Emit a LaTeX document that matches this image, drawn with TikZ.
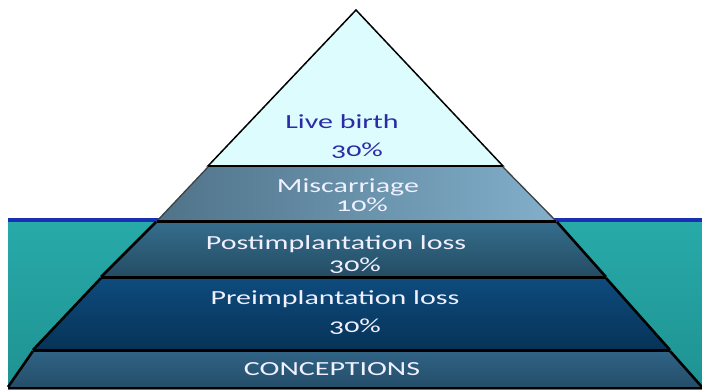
\documentclass[tikz,border=0pt]{standalone}
\usepackage{fontspec}
\setmainfont{Carlito}[Numbers=OldStyle]
\definecolor{seatop}{HTML}{27AAA9}
\definecolor{seabot}{HTML}{1F9292}
\definecolor{sealine}{HTML}{1B30B0}
\definecolor{birthfill}{HTML}{DDFCFD}
\definecolor{birthtext}{HTML}{2B2BA8}
\definecolor{misleft}{HTML}{4F7389}
\definecolor{misright}{HTML}{82AFCB}
\definecolor{posttop}{HTML}{356D8C}
\definecolor{postbot}{HTML}{244C63}
\definecolor{pretop}{HTML}{0E4B7D}
\definecolor{prebot}{HTML}{063357}
\definecolor{contop}{HTML}{306385}
\definecolor{conbot}{HTML}{244E6A}
\begin{document}
\begin{tikzpicture}[x=1pt, y=-1pt,
    edge/.style={draw=black, line width=2.6pt, line join=round},
    lbl/.style={font=\fontsize{20}{24}\selectfont, text=white!94!blue, xscale=1.5, anchor=base, inner sep=0pt}]
    \useasboundingbox (0,0) rectangle (702,390);
    % water
    \shade[top color=seatop, bottom color=seabot] (8,221) rectangle (702,389);
    \fill[sealine] (8,218.5) rectangle (702,222.5);
    % layers
    \filldraw[fill=birthfill, draw=black, line width=1.5pt] (356,10) -- (503,166) -- (208,166) -- cycle;
    \shade[left color=misleft, right color=misright] (208,167) -- (503,167) -- (556,221) -- (157,221) -- cycle;
    \draw[black!75, line width=1.3pt] (208,167) -- (157,221) (503,167) -- (556,221);
    \shade[top color=posttop, bottom color=postbot] (156,222) -- (557,222) -- (606,277) -- (101,277) -- cycle;
    \draw[edge] (156,222) -- (101,277) (557,222) -- (606,277);
    \shade[top color=pretop, bottom color=prebot] (101,278) -- (606,278) -- (670,350) -- (33,350) -- cycle;
    \draw[edge] (101,278) -- (33,350) (606,278) -- (670,350);
    \shade[top color=contop, bottom color=conbot] (33,351) -- (670,351) -- (702,387) -- (8,387) -- cycle;
    \draw[edge] (33,351) -- (8,387) (670,351) -- (702,387);
    % dividers
    \draw[black, line width=2pt] (208,166.5) -- (503,166.5);
    \draw[edge] (157,221.5) -- (556,221.5);
    \draw[edge] (101,277.5) -- (606,277.5);
    \draw[edge] (33,350.5) -- (670,350.5);
    \draw[black, line width=2pt] (8,388) -- (702,388);
    % labels
    \node[lbl, text=birthtext] (birth) at (342,129) {Live birth};
    \node[lbl, text=birthtext] (birthpc) at (357,157) {30\%};
    \node[lbl] (mis) at (348,193) {Miscarriage};
    \node[lbl] (mispc) at (362,212) {10\%};
    \node[lbl] (post) at (336,250) {Postimplantation loss};
    \node[lbl] (postpc) at (355,272) {30\%};
    \node[lbl] (pre) at (335,305) {Preimplantation loss};
    \node[lbl] (prepc) at (355,333) {30\%};
    \node[lbl] (con) at (332,375) {CONCEPTIONS};
\end{tikzpicture}
\end{document}
